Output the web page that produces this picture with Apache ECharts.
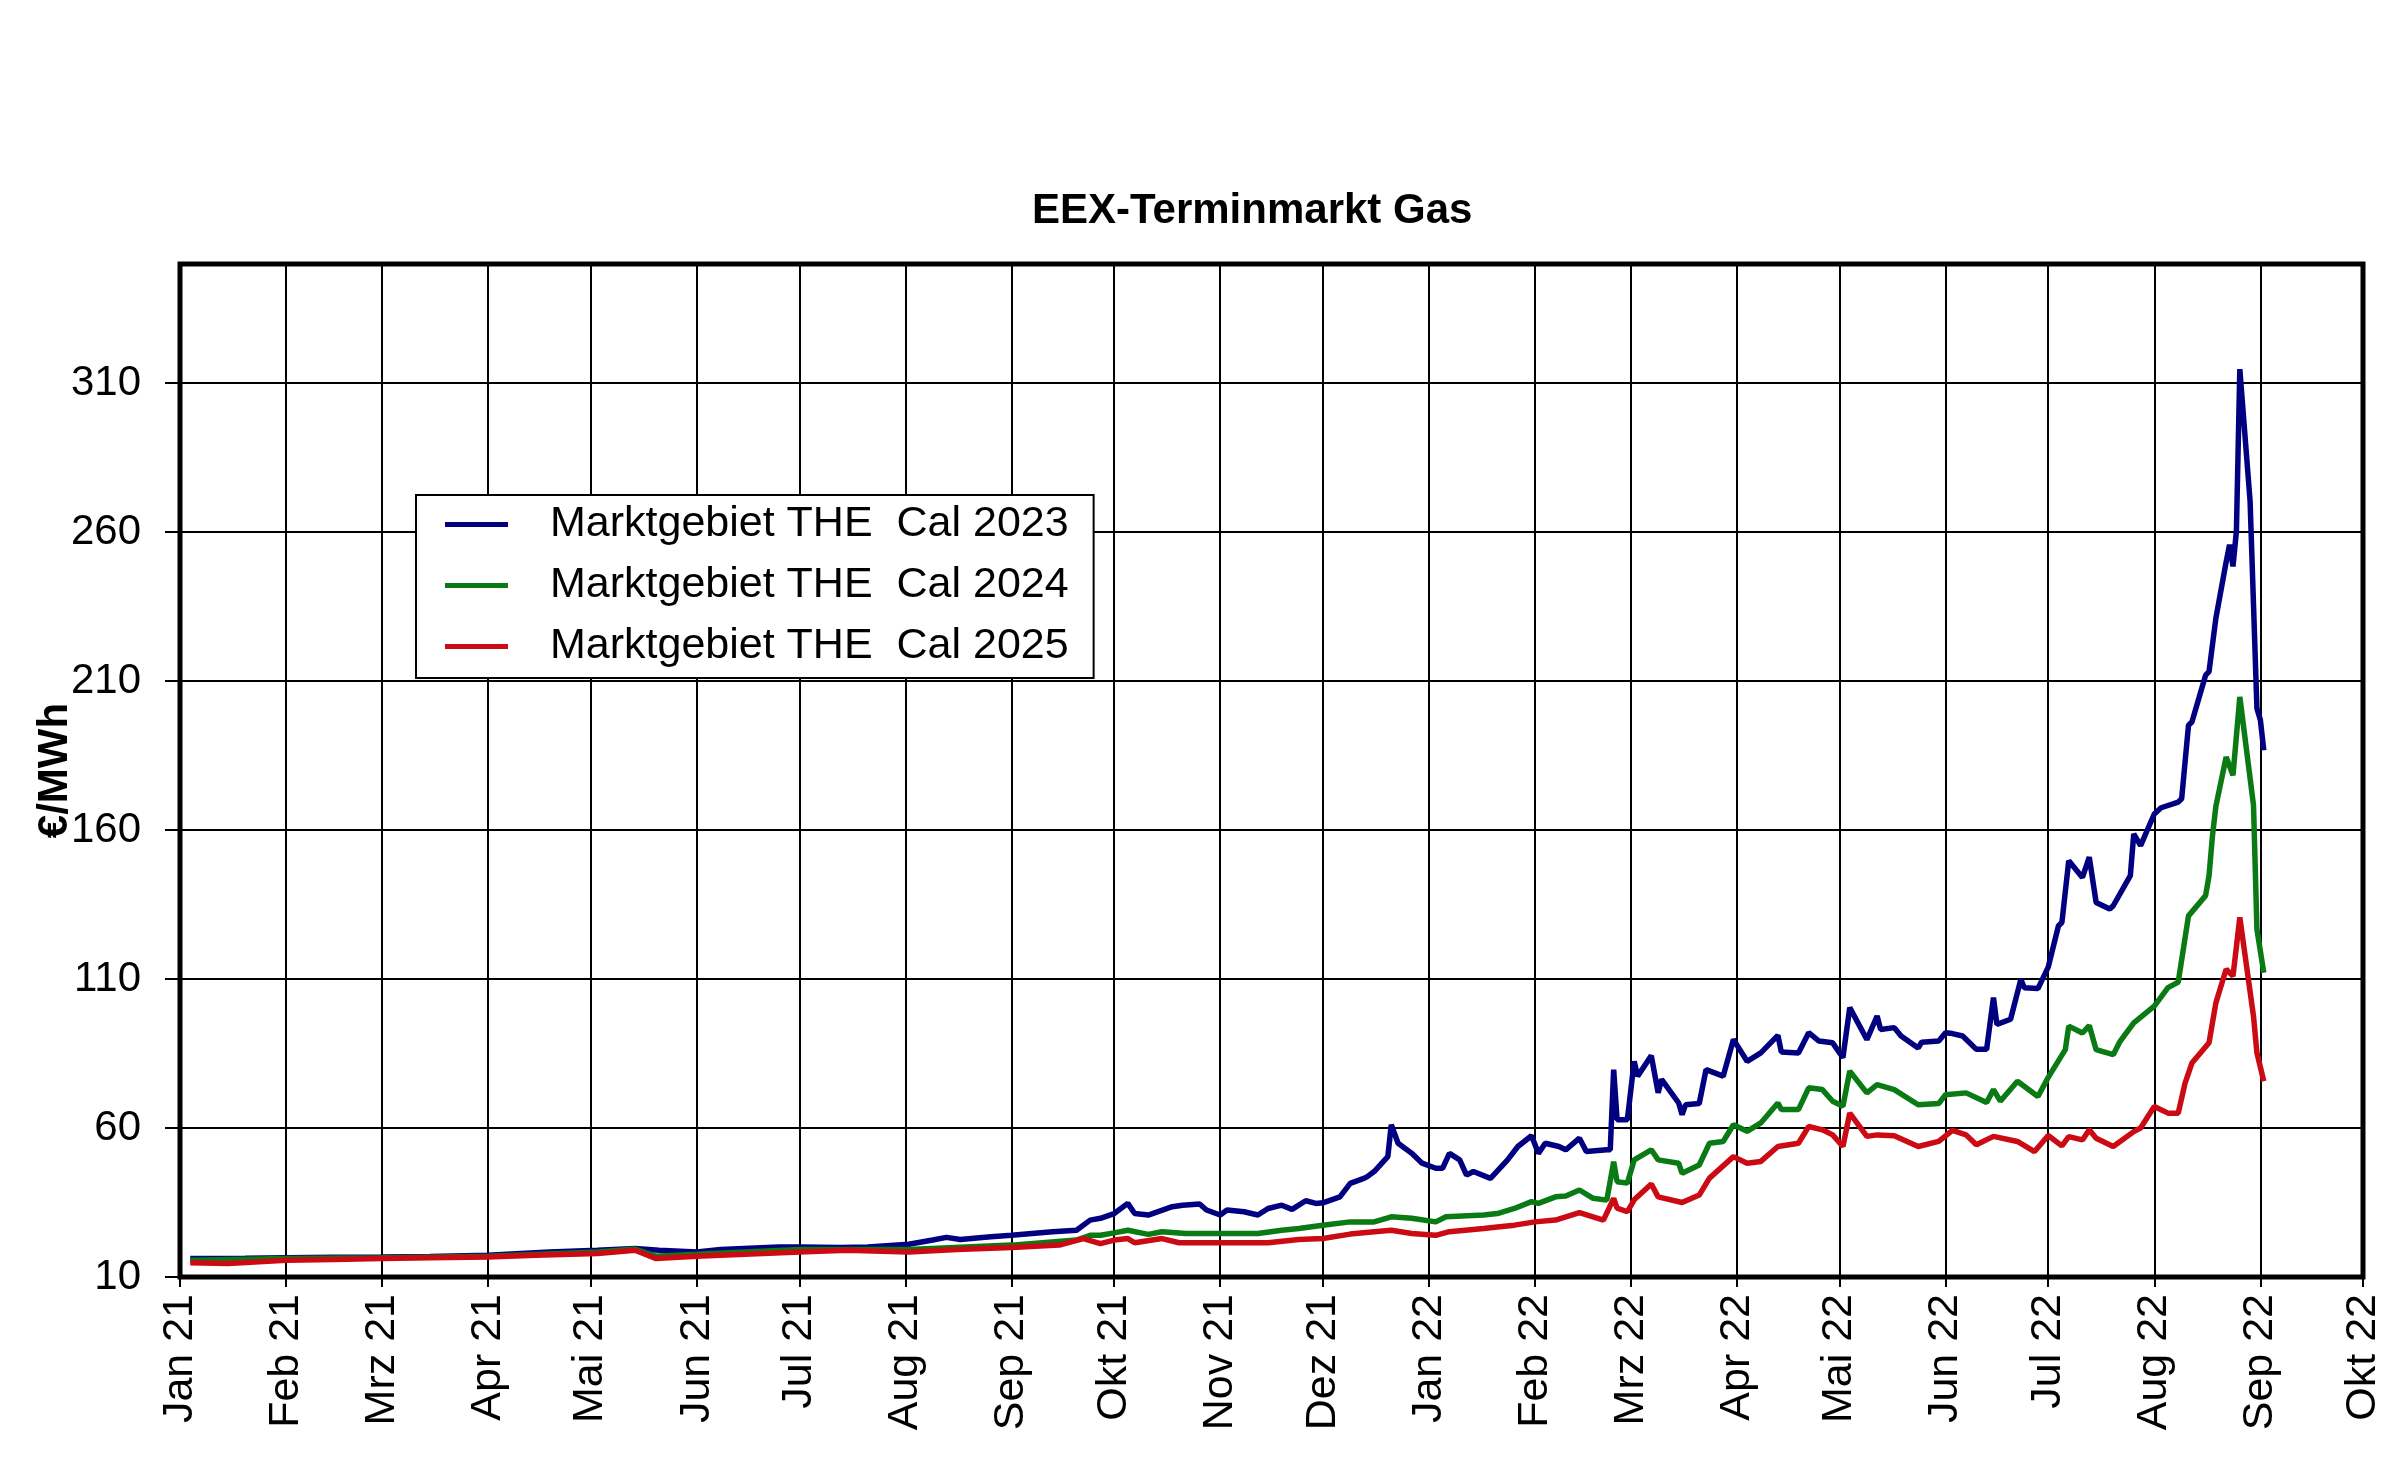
<!doctype html>
<html>
<head>
  <meta charset="utf-8">
  <title>EEX-Terminmarkt Gas</title>
  <script src="https://cdn.jsdelivr.net/npm/echarts@6/dist/echarts.min.js"></script>
  <style>
    html, body { margin: 0; padding: 0; background: #fff; }
    #chart { width: 2400px; height: 1465px; }
  </style>
</head>
<body>
<div id="chart"></div>
<script type="text/javascript">
// month names for the x axis labels
var monthNames = ['Jan', 'Feb', 'Mrz', 'Apr', 'Mai', 'Jun', 'Jul', 'Aug', 'Sep', 'Okt', 'Nov', 'Dez'];
var yTicks = [10, 60, 110, 160, 210, 260, 310];
var seriesNames = ['Marktgebiet THE  Cal 2023', 'Marktgebiet THE  Cal 2024', 'Marktgebiet THE  Cal 2025'];

// Cal 2023
var dates23 = ['2021-01-04','2021-01-20','2021-02-01','2021-02-15','2021-03-01','2021-03-15','2021-04-01','2021-04-19',
  '2021-05-03','2021-05-14','2021-05-21','2021-06-01','2021-06-08','2021-06-25','2021-07-01','2021-07-13','2021-07-21',
  '2021-08-02','2021-08-09','2021-08-13','2021-08-17','2021-08-26','2021-09-01','2021-09-13','2021-09-20','2021-09-24',
  '2021-09-27','2021-10-01','2021-10-05','2021-10-07','2021-10-11','2021-10-18','2021-10-21','2021-10-26','2021-10-28',
  '2021-11-01','2021-11-03','2021-11-08','2021-11-12','2021-11-15','2021-11-19','2021-11-22','2021-11-26','2021-11-29',
  '2021-12-01','2021-12-06','2021-12-09','2021-12-13','2021-12-14','2021-12-16','2021-12-20','2021-12-21','2021-12-23',
  '2021-12-27','2021-12-30','2022-01-03','2022-01-05','2022-01-07','2022-01-10','2022-01-12','2022-01-14','2022-01-19',
  '2022-01-24','2022-01-27','2022-01-31','2022-02-02','2022-02-04','2022-02-08','2022-02-10','2022-02-14','2022-02-16',
  '2022-02-22','2022-02-23','2022-02-24','2022-02-25','2022-02-28','2022-03-02','2022-03-03','2022-03-07','2022-03-09',
  '2022-03-10','2022-03-15','2022-03-16','2022-03-17','2022-03-21','2022-03-23','2022-03-28','2022-03-31','2022-04-04',
  '2022-04-08','2022-04-13','2022-04-14','2022-04-19','2022-04-22','2022-04-25','2022-04-29','2022-05-02','2022-05-04',
  '2022-05-09','2022-05-12','2022-05-13','2022-05-17','2022-05-19','2022-05-24','2022-05-25','2022-05-30','2022-06-01',
  '2022-06-03','2022-06-06','2022-06-10','2022-06-13','2022-06-15','2022-06-16','2022-06-20','2022-06-23','2022-06-24',
  '2022-06-28','2022-07-01','2022-07-04','2022-07-05','2022-07-07','2022-07-11','2022-07-13','2022-07-15','2022-07-19',
  '2022-07-20','2022-07-25','2022-07-26','2022-07-28','2022-08-01','2022-08-03','2022-08-08','2022-08-09','2022-08-11',
  '2022-08-12','2022-08-16','2022-08-17','2022-08-19','2022-08-22','2022-08-23','2022-08-24','2022-08-25','2022-08-26',
  '2022-08-29','2022-08-31','2022-09-01','2022-09-02'];
var cal23 = [16.2,16.3,16.5,16.6,16.7,16.9,17.3,18.4,
  19.0,19.6,19.0,18.4,19.2,20.1,20.1,19.9,20.1,
  21.0,22.4,23.3,22.6,23.5,24.0,25.2,25.7,29.1,
  29.7,31.3,34.7,31.3,30.8,33.6,34.1,34.5,32.5,
  30.8,32.5,31.9,30.8,33.0,34.1,32.7,35.6,34.7,
  34.9,36.9,41.4,43.1,43.7,45.4,50.4,61.1,54.9,
  51.5,48.2,46.5,46.5,51.5,49.3,44.2,45.4,43.1,
  49.3,53.8,57.4,51.5,54.9,53.8,52.7,56.6,52.1,
  52.7,52.7,79.6,62.8,62.8,82.4,77.4,84.3,71.8,
  76.3,68.4,64.5,67.8,68.2,79.6,77.4,89.7,82.4,
  85.2,91.1,85.5,85.2,92.0,89.2,88.6,83.6,100.4,
  89.7,97.6,93.1,93.7,90.9,86.9,88.8,89.2,92.0,
  91.7,90.9,86.4,86.4,103.8,94.8,96.5,109.9,107.1,
  106.8,114.0,127.9,129.0,149.7,144.1,150.9,135.7,133.5,
  134.6,144.7,158.7,154.8,165.4,167.5,169.4,170.5,195.2,
  196.3,212.0,213.2,231.1,250.0,255.8,248.5,260.3,314.7,
  270.4,200.8,197.0,186.8];

// Cal 2024
var dates24 = ['2021-01-04','2021-02-01','2021-03-01','2021-04-01','2021-05-03','2021-05-14','2021-05-20','2021-06-01',
  '2021-07-01','2021-08-02','2021-09-01','2021-09-20','2021-09-24','2021-09-27','2021-10-01','2021-10-05','2021-10-11',
  '2021-10-15','2021-10-22','2021-11-01','2021-11-12','2021-11-19','2021-11-24','2021-12-01','2021-12-09','2021-12-16',
  '2021-12-21','2021-12-27','2022-01-03','2022-01-06','2022-01-17','2022-01-21','2022-01-26','2022-01-31','2022-02-02',
  '2022-02-07','2022-02-10','2022-02-14','2022-02-18','2022-02-22','2022-02-24','2022-02-25','2022-02-28','2022-03-02',
  '2022-03-07','2022-03-09','2022-03-15','2022-03-16','2022-03-21','2022-03-24','2022-03-28','2022-03-31','2022-04-04',
  '2022-04-08','2022-04-13','2022-04-14','2022-04-19','2022-04-22','2022-04-26','2022-04-29','2022-05-02','2022-05-04',
  '2022-05-09','2022-05-12','2022-05-17','2022-05-24','2022-05-30','2022-06-01','2022-06-07','2022-06-13','2022-06-15',
  '2022-06-17','2022-06-22','2022-06-28','2022-07-01','2022-07-06','2022-07-07','2022-07-11','2022-07-13','2022-07-15',
  '2022-07-20','2022-07-22','2022-07-26','2022-08-01','2022-08-05','2022-08-08','2022-08-11','2022-08-16','2022-08-17',
  '2022-08-18','2022-08-19','2022-08-22','2022-08-24','2022-08-26','2022-08-30','2022-08-31','2022-09-02'];
var cal24 = [15.6,16.2,16.5,17.0,18.4,19.4,17.0,17.6,
  19.2,19.2,20.7,22.4,24.0,24.0,24.8,25.7,24.3,
  25.2,24.6,24.6,24.6,25.7,26.3,27.4,28.5,28.5,
  30.2,29.7,28.5,30.2,30.8,31.3,33.0,35.3,34.7,
  36.9,37.2,39.2,36.4,35.8,48.7,42.0,41.5,49.3,
  52.7,49.3,48.2,44.8,47.6,54.9,55.5,61.1,58.9,
  61.7,68.4,66.2,66.2,73.5,72.9,69.0,67.3,79.1,
  71.8,74.6,72.9,67.8,68.2,71.2,71.8,68.6,72.9,
  69.0,75.7,70.6,77.0,86.3,94.2,91.9,94.4,86.3,
  84.6,89.1,95.3,100.9,107.1,109.0,131.2,138.0,144.7,
  158.0,168.0,184.5,178.4,204.7,168.3,126.7,112.1];

// Cal 2025
var dates25 = ['2021-01-04','2021-01-15','2021-02-01','2021-02-15','2021-03-01','2021-03-15','2021-04-01','2021-04-15',
  '2021-05-03','2021-05-14','2021-05-20','2021-06-01','2021-06-15','2021-07-01','2021-07-15','2021-08-02','2021-08-16',
  '2021-09-01','2021-09-15','2021-09-22','2021-09-27','2021-10-01','2021-10-05','2021-10-07','2021-10-15','2021-10-20',
  '2021-11-01','2021-11-15','2021-11-24','2021-12-01','2021-12-09','2021-12-16','2021-12-21','2021-12-27','2022-01-03',
  '2022-01-07','2022-01-17','2022-01-21','2022-01-26','2022-02-01','2022-02-07','2022-02-14','2022-02-21','2022-02-24',
  '2022-02-25','2022-02-28','2022-03-02','2022-03-07','2022-03-09','2022-03-16','2022-03-21','2022-03-24','2022-03-31',
  '2022-04-04','2022-04-08','2022-04-13','2022-04-19','2022-04-22','2022-04-26','2022-04-29','2022-05-02','2022-05-04',
  '2022-05-09','2022-05-12','2022-05-17','2022-05-24','2022-05-30','2022-06-03','2022-06-07','2022-06-10','2022-06-15',
  '2022-06-22','2022-06-27','2022-07-01','2022-07-05','2022-07-07','2022-07-11','2022-07-13','2022-07-15','2022-07-20',
  '2022-07-26','2022-07-28','2022-08-01','2022-08-05','2022-08-08','2022-08-10','2022-08-12','2022-08-17','2022-08-19',
  '2022-08-22','2022-08-24','2022-08-26','2022-08-30','2022-08-31','2022-09-02'];
var cal25 = [14.8,14.5,15.6,15.9,16.2,16.5,16.7,17.3,
  17.9,19.0,16.2,17.0,17.6,18.4,19.0,18.4,19.2,
  19.9,20.7,22.9,21.2,22.4,22.9,21.5,22.9,21.5,
  21.5,21.5,22.6,22.9,24.4,25.2,25.7,24.6,24.0,
  25.2,26.3,26.8,27.4,28.5,29.1,31.6,29.1,36.4,
  33.1,31.9,35.9,41.2,36.9,35.0,37.5,43.2,50.4,
  48.2,48.8,53.8,54.9,60.5,59.4,57.7,53.8,65.0,
  57.2,57.7,57.4,53.8,55.5,59.2,57.7,54.4,57.2,
  55.5,52.1,57.5,54.0,57.1,56.0,59.4,56.6,53.8,
  58.8,60.0,67.2,65.0,65.0,75.1,81.8,88.6,102.0,
  113.3,111.0,130.7,97.5,85.2,75.7];

var colors = ['#000080', '#0a7a14', '#cc0a14'];
var fontName = 'Liberation Sans, Arial, sans-serif';

function toUTC(s) {
  var p = s.split('-');
  return Date.UTC(+p[0], +p[1] - 1, +p[2]);
}
function pairs(dates, vals) {
  return dates.map(function (d, i) { return [toUTC(d), vals[i]]; });
}

var myChart = echarts.init(document.getElementById('chart'));

var option = {
  useUTC: true,
  animation: false,
  backgroundColor: '#fff',
  textStyle: { fontFamily: fontName },
  title: {
    text: 'EEX-Terminmarkt Gas',
    left: 1032,
    top: 190,
    padding: 0,
    textStyle: { fontSize: 42, fontWeight: 'bold', color: '#000', fontFamily: fontName }
  },
  legend: {
    orient: 'vertical',
    left: 416,
    top: 495,
    backgroundColor: '#fff',
    borderColor: '#000',
    borderWidth: 2,
    padding: [8, 25, 10, 29],
    icon: 'rect',
    itemWidth: 63,
    itemHeight: 5,
    itemGap: 18,
    data: seriesNames,
    formatter: function (name) { return '{t|' + name + '}'; },
    textStyle: {
      fontSize: 43, color: '#000', fontFamily: fontName,
      rich: { t: { fontSize: 43, color: '#000', fontFamily: fontName, padding: [0, 0, 0, 37] } }
    }
  },
  grid: {
    left: 180,
    right: 37,
    top: 264,
    bottom: 188,
    show: true,
    borderColor: '#000',
    borderWidth: 5,
    containLabel: false
  },
  xAxis: {
    type: 'time',
    min: Date.UTC(2021, 0, 1),
    max: Date.UTC(2022, 9, 1),
    splitNumber: 21,
    axisLine: { show: false },
    axisTick: { show: true, length: 10, lineStyle: { color: '#000', width: 2 } },
    splitLine: { show: true, lineStyle: { color: '#000', width: 2 } },
    axisLabel: {
      rotate: 90,
      fontSize: 43,
      color: '#000',
      fontFamily: fontName,
      margin: 17,
      showMinLabel: true,
      showMaxLabel: true,
      hideOverlap: false,
      formatter: function (val) {
        var d = new Date(val);
        return monthNames[d.getUTCMonth()] + ' ' + String(d.getUTCFullYear()).slice(2);
      }
    }
  },
  yAxis: {
    type: 'value',
    min: 10,
    max: 350,
    interval: 50,
    name: '€/MWh',
    nameLocation: 'middle',
    nameGap: 104,
    nameMoveOverlap: false,
    nameTextStyle: { fontSize: 42, fontWeight: 'bold', color: '#000', fontFamily: fontName },
    axisLine: { show: false },
    axisTick: { show: true, length: 15, lineStyle: { color: '#000', width: 2 }, customValues: yTicks },
    splitLine: { show: true, lineStyle: { color: '#000', width: 2 } },
    axisLabel: { fontSize: 42, color: '#000', fontFamily: fontName, margin: 39, customValues: yTicks }
  },
  series: [
    { name: seriesNames[0], type: 'line', symbol: 'none', data: pairs(dates23, cal23),
      color: colors[0], lineStyle: { width: 5.5, color: colors[0] } },
    { name: seriesNames[1], type: 'line', symbol: 'none', data: pairs(dates24, cal24),
      color: colors[1], lineStyle: { width: 5.5, color: colors[1] } },
    { name: seriesNames[2], type: 'line', symbol: 'none', data: pairs(dates25, cal25),
      color: colors[2], lineStyle: { width: 5.5, color: colors[2] } }
  ]
};

myChart.setOption(option);
</script>
</body>
</html>
